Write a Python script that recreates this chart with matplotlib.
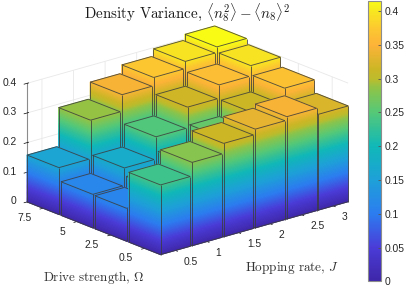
import numpy as np
import matplotlib
matplotlib.use("Agg")
from matplotlib import pyplot as plt
from matplotlib.colors import LinearSegmentedColormap, Normalize
from matplotlib.cm import ScalarMappable
from mpl_toolkits.mplot3d import proj3d
from mpl_toolkits.mplot3d.art3d import Poly3DCollection, Line3DCollection

plt.rcParams['font.family'] = ['Liberation Sans', 'DejaVu Sans']
plt.rcParams['mathtext.fontset'] = 'cm'

hopping = ['0.5', '1', '1.5', '2', '2.5', '3']
drive = ['0.5', '2.5', '5', '7.5']
z_ticks = [0, 0.1, 0.2, 0.3, 0.4]
z_labels = ['0', '0.1', '0.2', '0.3', '0.4']
cbar_ticks = [0, 0.05, 0.1, 0.15, 0.2, 0.25, 0.3, 0.35, 0.4]
cbar_labels = ['0', '0.05', '0.1', '0.15', '0.2', '0.25', '0.3', '0.35', '0.4']

# one row per drive strength, one column per hopping rate
row_05 = [0.235, 0.281, 0.315, 0.333, 0.345, 0.323]
row_25 = [0.111, 0.146, 0.200, 0.260, 0.313, 0.366]
row_50 = [0.113, 0.172, 0.247, 0.317, 0.362, 0.397]
row_75 = [0.158, 0.288, 0.344, 0.372, 0.396, 0.415]
variance = np.array([row_05, row_25, row_50, row_75])

# parula-like map, colours
vmax = 0.415
cmap_values = [0, 0.05, 0.1, 0.15, 0.2, 0.25, 0.285, 0.3, 0.315, 0.35, 0.375, 0.4, 0.415]
cmap_colors = ['#3e26a8', '#4a3cd8', '#2c7df0', '#1ea0d8', '#10b8b8', '#55c878', '#8cc44a',
               '#bcbc2c', '#ccb626', '#fdb338', '#fcc830', '#f8e620', '#f9fb15']
parula = LinearSegmentedColormap.from_list(
    'parula', [(v / vmax, c) for v, c in zip(cmap_values, cmap_colors)])
norm = Normalize(0, vmax)

W, H = 407, 286
fig = plt.figure(figsize=(W / 100, H / 100), dpi=100)
ax = fig.add_axes([0, 0, 1, 1], projection='3d', proj_type='ortho',
                  computed_zorder=False)
ax.patch.set_visible(False)

width = 0.94
half = width / 2
nj, nw = len(hopping), len(drive)
ax.set_xlim(1 - half, nj + half, view_margin=0)
ax.set_ylim(1 - half, nw + half, view_margin=0)
ax.set_zlim(0, 0.4, view_margin=0)
ax.set_box_aspect((246, 207, 126))
ax.view_init(elev=19.5, azim=-130.2)

ax.set_xticks(np.arange(1, nj + 1), [''] * nj)
ax.set_yticks(np.arange(1, nw + 1), [''] * nw)
ax.set_zticks(z_ticks, [''] * len(z_ticks))
for axis in (ax.xaxis, ax.yaxis, ax.zaxis):
    axis.set_pane_color((1, 1, 1, 0))
    axis.pane.set_edgecolor('white')
    axis._axinfo['grid'].update(color='#e8e8e8', linewidth=0.6)
    axis._axinfo['tick'].update(color='#8c8c8c', linewidth={True: 0.5, False: 0.5})
    axis.line.set_color('#8c8c8c')
    axis.line.set_linewidth(0.8)


def add_bar(i, j, height, order):
    x0, x1 = i + 1 - half, i + 1 + half
    y0, y1 = j + 1 - half, j + 1 + half
    levels = np.append(np.arange(0, height, 0.004), height)
    polys, cols = [], []
    for a, b in zip(levels[:-1], levels[1:]):
        c = parula(norm((a + b) / 2))
        polys.append([(x0, y0, a), (x1, y0, a), (x1, y0, b), (x0, y0, b)])
        polys.append([(x0, y0, a), (x0, y1, a), (x0, y1, b), (x0, y0, b)])
        cols += [c, c]
    polys.append([(x0, y0, height), (x1, y0, height),
                  (x1, y1, height), (x0, y1, height)])
    cols.append(parula(norm(height)))
    faces = Poly3DCollection(polys, facecolors=cols, edgecolors=cols,
                             linewidths=0.7, zorder=order)
    ax.add_collection3d(faces)
    edges = [[(x0, y0, 0), (x0, y0, height)],
             [(x1, y0, 0), (x1, y0, height)],
             [(x0, y1, 0), (x0, y1, height)],
             [(x0, y0, height), (x1, y0, height)],
             [(x1, y0, height), (x1, y1, height)],
             [(x1, y1, height), (x0, y1, height)],
             [(x0, y1, height), (x0, y0, height)],
             [(x0, y0, 0), (x1, y0, 0)],
             [(x0, y0, 0), (x0, y1, 0)]]
    lines = Line3DCollection(edges, colors='#3c3c3c', linewidths=0.65,
                             alpha=0.85, zorder=order + 0.5)
    ax.add_collection3d(lines)


order = 5
for j in range(nw - 1, -1, -1):
    for i in range(nj - 1, -1, -1):
        add_bar(i, j, variance[j, i], order)
        order += 1

# put the box where the reference has it: front, right and left ground corners
fig.canvas.draw()
M = ax.get_proj()


def view_xy(x, y, z):
    X, Y, _ = proj3d.proj_transform(x, y, z, M)
    return X, Y


corners = [(1 - half, 1 - half, 0), (nj + half, 1 - half, 0), (1 - half, nw + half, 0)]
targets = np.array([[160.7, H - 255.2], [348, H - 201.5], [27, H - 201.5]])
qs = np.array([ax.transAxes.inverted().transform(ax.transData.transform(view_xy(*c)))
               for c in corners])
S = (targets[1, 0] - targets[2, 0]) / (qs[1, 0] - qs[2, 0])
O = (targets - S * qs).mean(axis=0)
ax.set_position([O[0] / W, O[1] / H, S / W, S / H])

# tick labels sit at fixed pixel offsets from the projected ticks
tick_style = dict(textcoords='offset pixels', fontsize=7.4, color='#262626',
                  annotation_clip=False, zorder=200)
for k, lab in enumerate(hopping):
    ax.annotate(lab, view_xy(k + 1, 1 - half, 0), xytext=(8.5, -11.5),
                ha='left', va='center', **tick_style)
for k, lab in enumerate(drive):
    ax.annotate(lab, view_xy(1 - half, k + 1, 0), xytext=(-11.5, -10),
                ha='right', va='center', **tick_style)
for val, lab in zip(z_ticks, z_labels):
    ax.annotate(lab, view_xy(1 - half, nw + half, val), xytext=(-10.5, 0.5),
                ha='right', va='center', **tick_style)

fig.text(187 / W, 1 - 13 / H, r'Density Variance, $\langle n_8^2\rangle - \langle n_8\rangle^2$',
         family='cmr10', fontsize=10.8, ha='center', va='center', color='#1a1a1a')
fig.text(94 / W, 1 - 278 / H, r'Drive strength, $\Omega$', family='cmr10',
         fontsize=9.4, ha='center', va='center', color='#333333')
fig.text(292 / W, 1 - 268 / H, r'Hopping rate, $J$', family='cmr10',
         fontsize=9.5, ha='center', va='center', color='#333333')

cax = fig.add_axes([367.7 / W, 1 - 281.3 / H, 13.3 / W, 280.3 / H])
cbar = fig.colorbar(ScalarMappable(norm=norm, cmap=parula), cax=cax)
cbar.set_ticks(cbar_ticks, labels=cbar_labels)
cbar.ax.tick_params(direction='in', length=2.5, width=0.6, color='#555555',
                    labelsize=7.4, labelcolor='#262626', pad=2.5)
cbar.outline.set_edgecolor('#8c8c8c')
cbar.outline.set_linewidth(0.8)

fig.savefig('out.png', dpi=100)
